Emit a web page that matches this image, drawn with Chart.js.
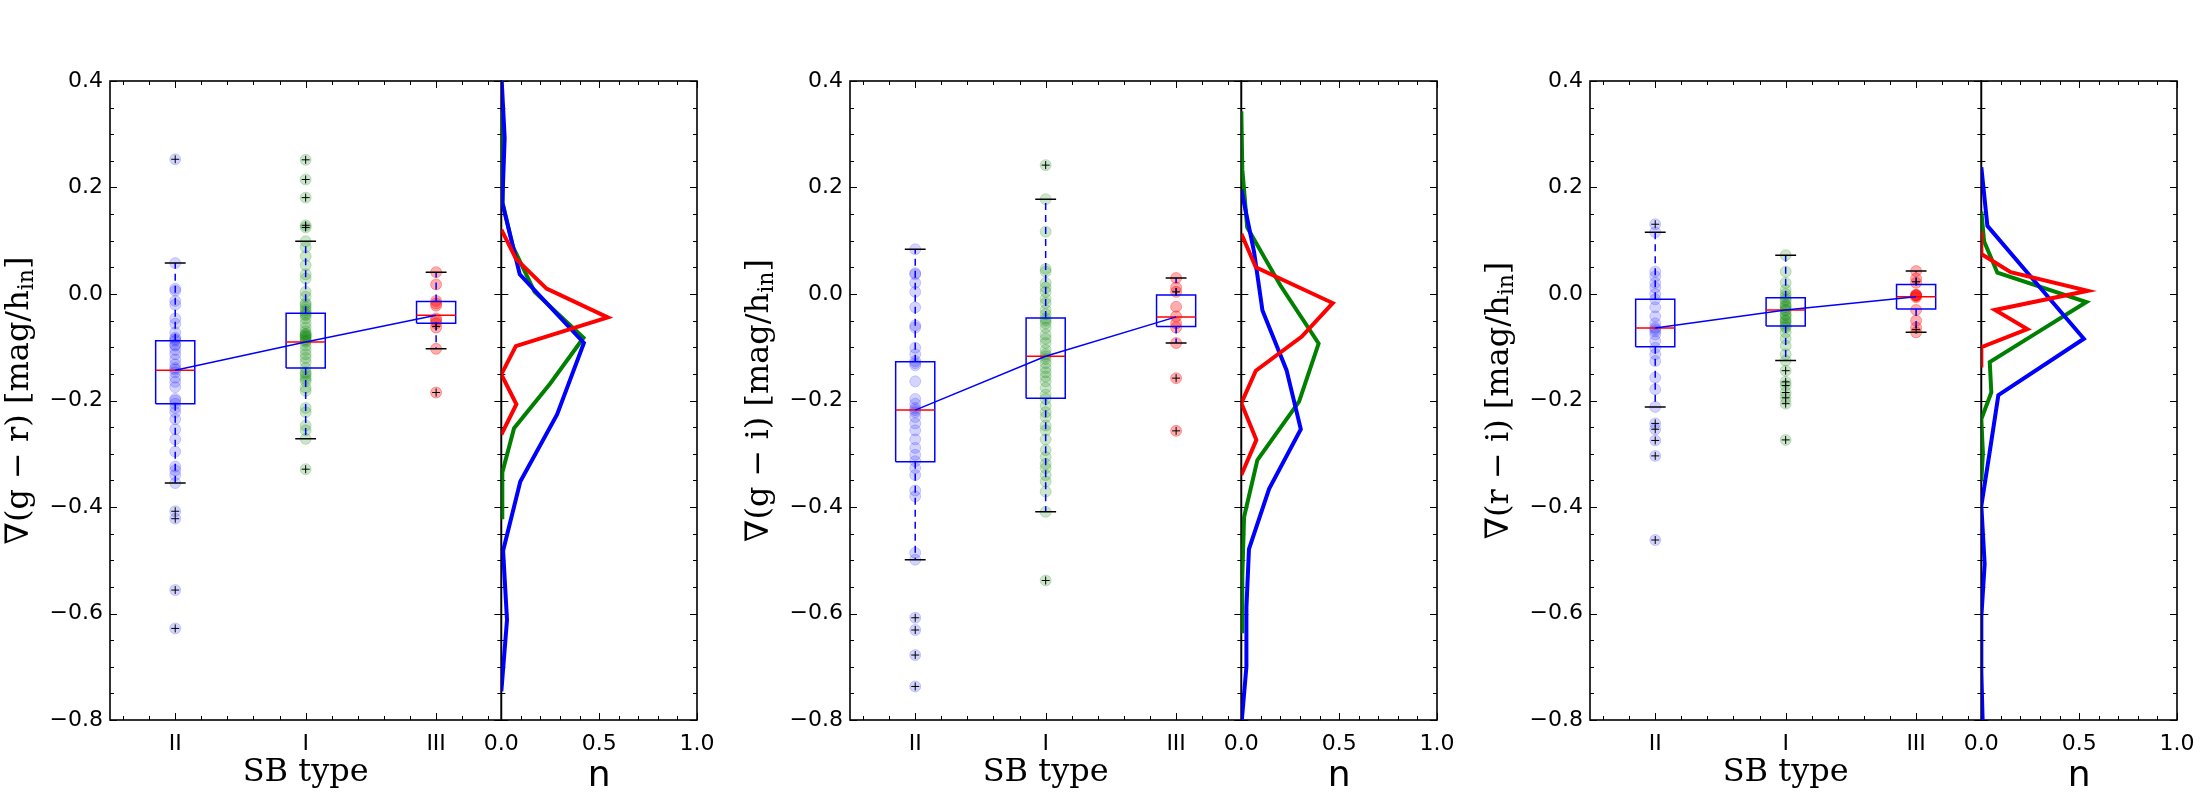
<!DOCTYPE html>
<html>
<head>
<meta charset="utf-8">
<script src="https://cdn.jsdelivr.net/npm/chart.js@4.4.1/dist/chart.umd.min.js"></script>
<style>
  html, body { margin: 0; padding: 0; background: #fff; }
  #wrap { position: relative; width: 2200px; height: 800px; }
  canvas { position: absolute; top: 0; }
</style>
</head>
<body>
<div id="wrap">
  <canvas id="c0" width="740" height="800" style="left:0px"></canvas>
  <canvas id="c1" width="740" height="800" style="left:740px"></canvas>
  <canvas id="c2" width="740" height="800" style="left:1480px"></canvas>
</div>
<script>
// --- axis labels / ticks ---
const sbTypes = ['II', 'I', 'III'];
const colourNames = ['g − r', 'g − i', 'r − i'];
const yTicks = [-0.8, -0.6, -0.4, -0.2, 0.0, 0.2, 0.4];
const yTickLabels = ['−0.8', '−0.6', '−0.4', '−0.2', '0.0', '0.2', '0.4'];
const nTicks = [0, 0.5, 1.0];
const nTickLabels = ['0.0', '0.5', '1.0'];

// --- panel 1 : g - r ---
const grPtsII = [0.253, 0.058, 0.010, 0.006, -0.013, -0.020, -0.046, -0.056, -0.072, -0.082, -0.085, -0.088, -0.095, -0.097, -0.105, -0.113, -0.123, -0.132, -0.139, -0.142, -0.147, -0.157, -0.165, -0.175, -0.197, -0.200, -0.206, -0.214, -0.222, -0.235, -0.254, -0.273, -0.296, -0.324, -0.331, -0.340, -0.355, -0.408, -0.422, -0.556, -0.628];
const grPtsI = [0.252, 0.215, 0.181, 0.129, 0.125, 0.099, 0.088, 0.071, 0.054, 0.037, 0.029, 0.004, -0.005, -0.017, -0.020, -0.025, -0.030, -0.034, -0.038, -0.040, -0.046, -0.055, -0.063, -0.070, -0.075, -0.076, -0.078, -0.080, -0.082, -0.085, -0.088, -0.090, -0.097, -0.105, -0.113, -0.120, -0.128, -0.139, -0.147, -0.150, -0.155, -0.160, -0.164, -0.176, -0.182, -0.214, -0.222, -0.247, -0.256, -0.272, -0.329];
const grPtsIII = [0.041, 0.018, -0.013, -0.018, -0.022, -0.046, -0.050, -0.055, -0.063, -0.103, -0.185];
const grOutII = [0.253, -0.408, -0.422, -0.556, -0.628];
const grOutI = [0.252, 0.215, 0.181, 0.129, 0.125, -0.329];
const grOutIII = [-0.061, -0.185];
const grQ1 = [-0.206, -0.139, -0.055];
const grMed = [-0.143, -0.090, -0.040];
const grQ3 = [-0.088, -0.036, -0.014];
const grLo = [-0.355, -0.272, -0.103];
const grHi = [0.058, 0.099, 0.041];
const grHistBlueY = [0.40, 0.293, 0.171, 0.037, -0.092, -0.226, -0.352, -0.482, -0.612, -0.746];
const grHistBlueN = [0.002, 0.017, 0.005, 0.094, 0.422, 0.285, 0.097, 0.009, 0.029, 0.0];
const grHistGreenY = [0.343, 0.257, 0.171, 0.088, 0.004, -0.082, -0.168, -0.252, -0.335, -0.423];
const grHistGreenN = [0.005, 0.008, 0.005, 0.06, 0.17, 0.42, 0.25, 0.065, 0.005, 0.005];
const grHistRedY = [0.121, 0.066, 0.010, -0.044, -0.098, -0.151, -0.207, -0.264];
const grHistRedN = [0.0, 0.075, 0.231, 0.544, 0.074, 0.0, 0.077, 0.0];

// --- panel 2 : g - i ---
const giPtsII = [0.084, 0.039, 0.037, 0.021, 0.004, -0.025, -0.059, -0.063, -0.101, -0.113, -0.126, -0.130, -0.134, -0.164, -0.197, -0.206, -0.214, -0.218, -0.222, -0.231, -0.243, -0.256, -0.273, -0.289, -0.302, -0.314, -0.327, -0.340, -0.369, -0.380, -0.486, -0.499, -0.608, -0.631, -0.678, -0.737];
const giPtsI = [0.242, 0.178, 0.117, 0.047, 0.042, 0.021, 0.012, 0.004, -0.009, -0.017, -0.030, -0.038, -0.046, -0.050, -0.055, -0.063, -0.076, -0.084, -0.092, -0.105, -0.113, -0.117, -0.122, -0.130, -0.139, -0.147, -0.155, -0.164, -0.176, -0.189, -0.197, -0.210, -0.222, -0.231, -0.247, -0.256, -0.273, -0.293, -0.306, -0.319, -0.327, -0.340, -0.352, -0.371, -0.409, -0.538];
const giPtsIII = [0.030, 0.012, 0.004, -0.024, -0.042, -0.055, -0.063, -0.092, -0.158, -0.257];
const giOutII = [-0.608, -0.631, -0.678, -0.737];
const giOutI = [0.242, -0.538];
const giOutIII = [0.004, -0.158, -0.257];
const giQ1 = [-0.315, -0.196, -0.061];
const giMed = [-0.218, -0.117, -0.043];
const giQ3 = [-0.127, -0.045, -0.002];
const giLo = [-0.499, -0.409, -0.092];
const giHi = [0.084, 0.178, 0.030];
const giHistBlueY = [0.196, 0.079, -0.031, -0.143, -0.254, -0.366, -0.479, -0.589, -0.70, -0.811];
const giHistBlueN = [0.0, 0.065, 0.108, 0.231, 0.304, 0.142, 0.039, 0.026, 0.026, 0.0];
const giHistGreenY = [0.343, 0.234, 0.125, 0.016, -0.093, -0.202, -0.312, -0.419, -0.528, -0.637];
const giHistGreenN = [0.0, 0.005, 0.03, 0.2, 0.395, 0.295, 0.082, 0.014, 0.005, 0.005];
const giHistRedY = [0.113, 0.050, -0.017, -0.080, -0.144, -0.205, -0.274, -0.340];
const giHistRedN = [0.0, 0.074, 0.467, 0.309, 0.074, 0.0, 0.077, 0.0];

// --- panel 3 : r - i ---
const riPtsII = [0.131, 0.116, 0.042, 0.033, 0.021, 0.012, 0.000, -0.010, -0.025, -0.042, -0.055, -0.063, -0.066, -0.070, -0.076, -0.088, -0.101, -0.113, -0.126, -0.157, -0.179, -0.212, -0.243, -0.254, -0.275, -0.304, -0.462];
const riPtsI = [0.073, 0.042, 0.021, 0.008, 0.000, -0.005, -0.010, -0.013, -0.020, -0.022, -0.025, -0.030, -0.031, -0.038, -0.040, -0.045, -0.050, -0.051, -0.056, -0.060, -0.063, -0.072, -0.084, -0.097, -0.113, -0.125, -0.144, -0.165, -0.172, -0.185, -0.195, -0.206, -0.274];
const riPtsIII = [0.043, 0.029, 0.021, -0.002, -0.002, -0.002, -0.004, -0.006, -0.030, -0.050, -0.063, -0.072];
const riOutII = [0.131, -0.243, -0.254, -0.275, -0.304, -0.462];
const riOutI = [-0.144, -0.165, -0.172, -0.185, -0.195, -0.206, -0.274];
const riOutIII = [0.023, -0.067];
const riQ1 = [-0.099, -0.060, -0.028];
const riMed = [-0.064, -0.030, -0.005];
const riQ3 = [-0.010, -0.007, 0.018];
const riLo = [-0.212, -0.125, -0.072];
const riHi = [0.116, 0.073, 0.043];
const riHistBlueY = [0.238, 0.128, 0.022, -0.084, -0.190, -0.296, -0.398, -0.507, -0.607, -0.71, -0.82];
const riHistBlueN = [0.0, 0.031, 0.277, 0.524, 0.087, 0.043, 0.0, 0.017, 0.0, 0.0, 0.008];
const riHistGreenY = [0.155, 0.099, 0.040, -0.015, -0.072, -0.128, -0.185, -0.235, -0.298, -0.352];
const riHistGreenN = [0.0, 0.014, 0.082, 0.537, 0.287, 0.043, 0.051, 0.0, 0.008, 0.0];
const riHistRedY = [0.118, 0.075, 0.041, 0.006, -0.030, -0.066, -0.100, -0.138];
const riHistRedN = [0.0, 0.0, 0.15, 0.544, 0.07, 0.235, 0.0, 0.0];

// --- styles ---
const pointFill = ['rgba(0,0,255,0.17)', 'rgba(0,128,0,0.2)', 'rgba(255,0,0,0.32)'];
const lineBlue = '#0000ff', lineGreen = '#008000', lineRed = '#ff0000';
const boxHalf = 0.15, capHalf = 0.08;

const panels = [
  { colour: colourNames[0], pts: [grPtsII, grPtsI, grPtsIII], out: [grOutII, grOutI, grOutIII],
    q1: grQ1, med: grMed, q3: grQ3, lo: grLo, hi: grHi,
    hist: [[grHistRedY, grHistRedN, lineRed], [grHistBlueY, grHistBlueN, lineBlue], [grHistGreenY, grHistGreenN, lineGreen]] },
  { colour: colourNames[1], pts: [giPtsII, giPtsI, giPtsIII], out: [giOutII, giOutI, giOutIII],
    q1: giQ1, med: giMed, q3: giQ3, lo: giLo, hi: giHi,
    hist: [[giHistRedY, giHistRedN, lineRed], [giHistBlueY, giHistBlueN, lineBlue], [giHistGreenY, giHistGreenN, lineGreen]] },
  { colour: colourNames[2], pts: [riPtsII, riPtsI, riPtsIII], out: [riOutII, riOutI, riOutIII],
    q1: riQ1, med: riMed, q3: riQ3, lo: riLo, hi: riHi,
    hist: [[riHistRedY, riHistRedN, lineRed], [riHistBlueY, riHistBlueN, lineBlue], [riHistGreenY, riHistGreenN, lineGreen]] }
];

function segment(points, color, width, order, extra) {
  return Object.assign({
    data: points, showLine: true, borderColor: color, borderWidth: width,
    pointRadius: 0, fill: false, order: order, xAxisID: 'x', yAxisID: 'y'
  }, extra || {});
}

function buildDatasets(p) {
  const ds = [];
  sbTypes.forEach((t, i) => {
    const x = i + 1;
    // all galaxies of this type
    ds.push({
      data: p.pts[i].map(v => ({ x: x, y: v })), xAxisID: 'x', yAxisID: 'y',
      pointRadius: 5.5, pointBorderWidth: 1,
      backgroundColor: pointFill[i], borderColor: pointFill[i], order: 7
    });
    // box
    ds.push(segment([
      { x: x - boxHalf, y: p.q1[i] }, { x: x + boxHalf, y: p.q1[i] },
      { x: x + boxHalf, y: p.q3[i] }, { x: x - boxHalf, y: p.q3[i] },
      { x: x - boxHalf, y: p.q1[i] }], lineBlue, 1.5, 5));
    // median
    ds.push(segment([{ x: x - boxHalf, y: p.med[i] }, { x: x + boxHalf, y: p.med[i] }], lineRed, 1.5, 3));
    // whiskers
    ds.push(segment([{ x: x, y: p.q3[i] }, { x: x, y: p.hi[i] }], lineBlue, 1.5, 6, { borderDash: [7, 5] }));
    ds.push(segment([{ x: x, y: p.q1[i] }, { x: x, y: p.lo[i] }], lineBlue, 1.5, 6, { borderDash: [7, 5] }));
    // caps
    ds.push(segment([{ x: x - capHalf, y: p.hi[i] }, { x: x + capHalf, y: p.hi[i] }], '#000', 1.5, 4));
    ds.push(segment([{ x: x - capHalf, y: p.lo[i] }, { x: x + capHalf, y: p.lo[i] }], '#000', 1.5, 4));
    // fliers
    ds.push({
      data: p.out[i].map(v => ({ x: x, y: v })), xAxisID: 'x', yAxisID: 'y',
      pointStyle: 'cross', pointRadius: 4, pointBorderWidth: 1,
      borderColor: '#000', backgroundColor: '#000', order: 1
    });
  });
  // line through the medians
  ds.push(segment(p.med.map((v, i) => ({ x: i + 1, y: v })), lineBlue, 1.5, 2));
  // normalised histograms
  p.hist.forEach((h, k) => {
    ds.push({
      data: h[0].map((v, j) => ({ x: h[1][j], y: v })), xAxisID: 'xh', yAxisID: 'y',
      showLine: true, borderColor: h[2], borderWidth: 4, pointRadius: 0, fill: false,
      order: 8 + k, clip: 0
    });
  });
  return ds;
}

// matplotlib-like frames with inward ticks
const framePlugin = {
  id: 'mplFrame',
  beforeDatasetsDraw(chart) {
    const { ctx, chartArea, scales } = chart;
    const ys = scales.y;
    const T = chartArea.top, B = chartArea.bottom;
    const subs = [
      { s: scales.x, from: 0.6, to: 3.4, step: 0.2, major: [1, 2, 3] },
      { s: scales.xh, from: 0, to: 1.0, step: 0.1, major: [0, 0.5, 1.0] }
    ];
    ctx.save();
    ctx.strokeStyle = '#000';
    subs.forEach(sub => {
      const L = sub.s.left, R = sub.s.right;
      ctx.lineWidth = 1;
      ctx.beginPath();
      for (let v = -0.8; v <= 0.4001; v += 0.05) {
        const py = Math.round(ys.getPixelForValue(v)) + 0.5;
        const isMajor = yTicks.some(t => Math.abs(t - v) < 1e-6);
        const len = isMajor ? 7 : 4;
        ctx.moveTo(L, py); ctx.lineTo(L + len, py);
        ctx.moveTo(R, py); ctx.lineTo(R - len, py);
      }
      for (let v = sub.from; v <= sub.to + 1e-6; v += sub.step) {
        const px = Math.round(sub.s.getPixelForValue(v)) + 0.5;
        const isMajor = sub.major.some(t => Math.abs(t - v) < 1e-6);
        const len = isMajor ? 7 : 4;
        ctx.moveTo(px, B); ctx.lineTo(px, B - len);
        ctx.moveTo(px, T); ctx.lineTo(px, T + len);
      }
      ctx.stroke();
      ctx.lineWidth = 1.6;
      ctx.strokeRect(L, T, R - L, B - T);
    });
    ctx.restore();
  }
};

// rotated y title with a subscript
const yTitlePlugin = {
  id: 'yTitle',
  afterDraw(chart, args, opts) {
    const { ctx, chartArea } = chart;
    const big = 32, small = 22;
    const parts = [
      { t: '∇(' + opts.colour + ') [mag/h', f: big, dy: 0 },
      { t: 'in', f: small, dy: 7 },
      { t: ']', f: big, dy: 0 }
    ];
    ctx.save();
    ctx.translate(chartArea.left - 90, (chartArea.top + chartArea.bottom) / 2);
    ctx.rotate(-Math.PI / 2);
    ctx.fillStyle = '#000';
    ctx.textBaseline = 'middle';
    ctx.textAlign = 'left';
    let total = 0;
    parts.forEach(pt => { ctx.font = pt.f + 'px "DejaVu Serif"'; pt.w = ctx.measureText(pt.t).width; total += pt.w; });
    let xx = -total / 2;
    parts.forEach(pt => {
      ctx.font = pt.f + 'px "DejaVu Serif"';
      ctx.fillText(pt.t, xx, pt.dy);
      xx += pt.w;
    });
    ctx.restore();
  }
};

Chart.defaults.font.family = '"DejaVu Sans"';
Chart.defaults.font.size = 22;
Chart.defaults.color = '#000';

panels.forEach((p, idx) => {
  const ctx = document.getElementById('c' + idx);
  new Chart(ctx, {
    type: 'scatter',
    data: { datasets: buildDatasets(p) },
    options: {
      responsive: false,
      animation: false,
      devicePixelRatio: 1,
      events: [],
      layout: { padding: { top: 81, right: 43, bottom: 0, left: 0 } },
      plugins: {
        legend: { display: false },
        tooltip: { enabled: false },
        yTitle: { colour: p.colour }
      },
      scales: {
        x: {
          type: 'linear', position: 'bottom', stack: 'row', stackWeight: 2,
          min: 0.5, max: 3.5, bounds: 'data',
          afterBuildTicks: s => { s.ticks = sbTypes.map((t, i) => ({ value: i + 1 })); },
          ticks: { callback: (v, i) => sbTypes[i], autoSkip: false, maxRotation: 0, padding: 11 },
          grid: { display: false, drawTicks: false },
          border: { display: false },
          title: { display: true, text: 'SB type', font: { family: '"DejaVu Serif"', size: 32 }, padding: { top: 0, bottom: 8 } },
          afterFit: s => { s.height = 80; }
        },
        xh: {
          type: 'linear', position: 'bottom', stack: 'row', stackWeight: 1,
          min: 0, max: 1, bounds: 'data',
          afterBuildTicks: s => { s.ticks = nTicks.map(v => ({ value: v })); },
          ticks: { callback: (v, i) => nTickLabels[i], autoSkip: false, maxRotation: 0, padding: 11 },
          grid: { display: false, drawTicks: false },
          border: { display: false },
          title: { display: true, text: 'n', font: { family: '"DejaVu Sans"', size: 36 }, padding: { top: 0, bottom: 2 } },
          afterFit: s => { s.height = 80; }
        },
        y: {
          type: 'linear', position: 'left', min: -0.8, max: 0.4, bounds: 'data',
          afterBuildTicks: s => { s.ticks = yTicks.map(v => ({ value: v })); },
          ticks: { callback: (v, i) => yTickLabels[i], autoSkip: false, padding: 7 },
          grid: { display: false, drawTicks: false },
          border: { display: false },
          afterFit: s => { s.width = 110; }
        }
      }
    },
    plugins: [framePlugin, yTitlePlugin]
  });
});
</script>
</body>
</html>
